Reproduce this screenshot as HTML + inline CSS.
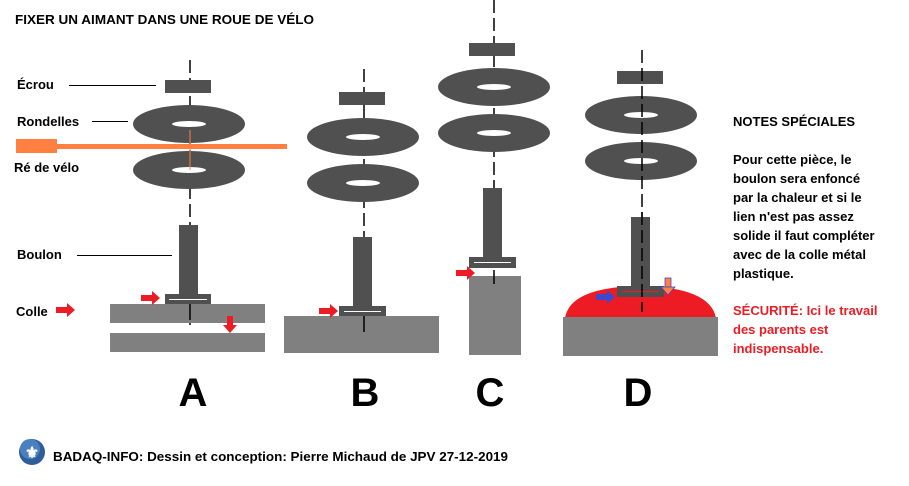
<!DOCTYPE html>
<html><head><meta charset="utf-8"><style>
html,body{margin:0;padding:0;background:#fff;}
svg{display:block;}
text{font-family:"Liberation Sans",sans-serif;font-weight:bold;}
</style></head><body>
<svg width="909" height="486" viewBox="0 0 909 486" xmlns="http://www.w3.org/2000/svg">
<defs>
<g id="washer"><ellipse cx="0" cy="0" rx="56" ry="19" fill="#505050"/><ellipse cx="0" cy="0" rx="17" ry="3" fill="#fff"/></g>
<g id="rarrow"><rect x="0" y="-3" width="12" height="6" fill="#ed1c24"/><polygon points="11,-7 19,0 11,7" fill="#ed1c24"/></g>
</defs>
<text x="15" y="24" font-size="13" textLength="299" lengthAdjust="spacingAndGlyphs">FIXER UN AIMANT DANS UNE ROUE DE VÉLO</text>

<!-- A -->
<line x1="190" y1="60" x2="190" y2="330" stroke="#000" stroke-width="1.5" stroke-dasharray="13,5"/>
<rect x="165" y="80" width="46" height="13" fill="#505050"/>
<use href="#washer" x="189" y="124"/>
<use href="#washer" x="189" y="170"/>
<rect x="16" y="139" width="41" height="14" fill="#ff8040"/>
<rect x="57" y="144" width="230" height="5" fill="#ff8040"/>
<line x1="190" y1="130" x2="190" y2="170" stroke="#ff8040" stroke-width="1"/>
<rect x="179" y="225" width="19" height="72" fill="#505050"/>
<rect x="165" y="294" width="46" height="10" fill="#505050"/>
<line x1="169" y1="299.5" x2="207" y2="299.5" stroke="#fff" stroke-width="1"/>
<rect x="110" y="304" width="155" height="19" fill="#808080"/>
<rect x="110" y="333" width="155" height="19" fill="#808080"/>
<line x1="190" y1="304" x2="190" y2="320" stroke="#000" stroke-width="1.5"/>
<use href="#rarrow" x="141" y="298"/>
<rect x="227" y="316" width="6" height="10" fill="#ed1c24"/><polygon points="223,325 237,325 230,333" fill="#ed1c24"/>
<text x="17" y="89" font-size="13">Écrou</text>
<line x1="69" y1="85.5" x2="156" y2="85.5" stroke="#000"/>
<text x="17" y="126" font-size="13">Rondelles</text>
<line x1="92" y1="121.5" x2="128" y2="121.5" stroke="#000"/>
<text x="14" y="172" font-size="13">Ré de vélo</text>
<text x="17" y="259" font-size="13">Boulon</text>
<line x1="77" y1="255.5" x2="172" y2="255.5" stroke="#000"/>
<text x="16" y="316" font-size="13">Colle</text>
<use href="#rarrow" x="56" y="310"/>
<text x="193" y="406" font-size="40" text-anchor="middle">A</text>

<!-- B -->
<line x1="364" y1="69" x2="364" y2="332" stroke="#000" stroke-width="1.5" stroke-dasharray="13,5"/>
<rect x="339" y="92" width="46" height="13" fill="#505050"/>
<use href="#washer" x="363" y="137"/>
<use href="#washer" x="363" y="183"/>
<rect x="353" y="237" width="19" height="72" fill="#505050"/>
<rect x="339" y="306" width="47" height="11" fill="#505050"/>
<line x1="344" y1="311.5" x2="381" y2="311.5" stroke="#fff"/>
<rect x="284" y="316" width="155" height="37" fill="#808080"/>
<line x1="364" y1="316" x2="364" y2="332" stroke="#000" stroke-width="1.5"/>
<use href="#rarrow" x="319" y="311"/>
<text x="365" y="406" font-size="40" text-anchor="middle">B</text>

<!-- C -->
<line x1="494" y1="0" x2="494" y2="284" stroke="#000" stroke-width="1.5" stroke-dasharray="13,5"/>
<rect x="469" y="43" width="46" height="13" fill="#505050"/>
<use href="#washer" x="494" y="87"/>
<use href="#washer" x="494" y="133"/>
<rect x="483" y="188" width="19" height="71" fill="#505050"/>
<rect x="469" y="257" width="47" height="11" fill="#505050"/>
<line x1="474" y1="262.5" x2="511" y2="262.5" stroke="#fff"/>
<rect x="469" y="276" width="52" height="79" fill="#808080"/>
<line x1="494" y1="276" x2="494" y2="284" stroke="#000" stroke-width="1.5"/>
<use href="#rarrow" x="456" y="273"/>
<text x="490" y="406" font-size="40" text-anchor="middle">C</text>

<!-- D -->
<rect x="617" y="71" width="46" height="13" fill="#505050"/>
<use href="#washer" x="641" y="115"/>
<use href="#washer" x="641" y="161"/>
<path d="M565,318 Q570,287 640,286 Q710,287 716,318 Z" fill="#ed1c24"/>
<rect x="563" y="317" width="155" height="39" fill="#808080"/>
<line x1="642" y1="50" x2="642" y2="312" stroke="#000" stroke-width="1.5" stroke-dasharray="13,5"/>
<rect x="631" y="217" width="19" height="71" fill="#505050"/>
<rect x="617" y="286" width="47" height="11" fill="#505050"/>
<line x1="622" y1="291.5" x2="659" y2="291.5" stroke="#ed1c24"/>
<line x1="642" y1="212" x2="642" y2="312" stroke="#000" stroke-width="1.5" stroke-dasharray="13,5"/>
<rect x="596" y="294" width="12" height="6" fill="#3f48cc"/><polygon points="607,290 615,297 607,304" fill="#3f48cc"/>
<rect x="665" y="278" width="6" height="9" fill="#ff8040" stroke="#3f48cc" stroke-width="0.8"/><polygon points="661,287 675,287 668,295" fill="#ff8040" stroke="#3f48cc" stroke-width="0.8"/>
<text x="638" y="406" font-size="40" text-anchor="middle">D</text>

<!-- Notes -->
<text x="733" y="126" font-size="13">NOTES SPÉCIALES</text>
<g font-size="13">
<text x="733" y="164">Pour cette pièce, le</text>
<text x="733" y="183">boulon sera enfoncé</text>
<text x="733" y="202">par la chaleur et si le</text>
<text x="733" y="221">lien n'est pas assez</text>
<text x="733" y="240">solide il faut compléter</text>
<text x="733" y="259">avec de la colle métal</text>
<text x="733" y="278">plastique.</text>
</g>
<g font-size="13" fill="#ed1c24">
<text x="733" y="315">SÉCURITÉ: Ici le travail</text>
<text x="733" y="334">des parents est</text>
<text x="733" y="353">indispensable.</text>
</g>

<!-- footer -->
<circle cx="32" cy="452" r="13" fill="#2f5d9a"/>
<circle cx="30" cy="449" r="10" fill="#4a7fc1"/>
<text x="32" y="458" font-size="16" fill="#fff" text-anchor="middle" font-family="DejaVu Sans">⚜</text>
<text x="53" y="461" font-size="13" textLength="455" lengthAdjust="spacingAndGlyphs">BADAQ-INFO:  Dessin et conception: Pierre Michaud de JPV  27-12-2019</text>
</svg>
</body></html>
